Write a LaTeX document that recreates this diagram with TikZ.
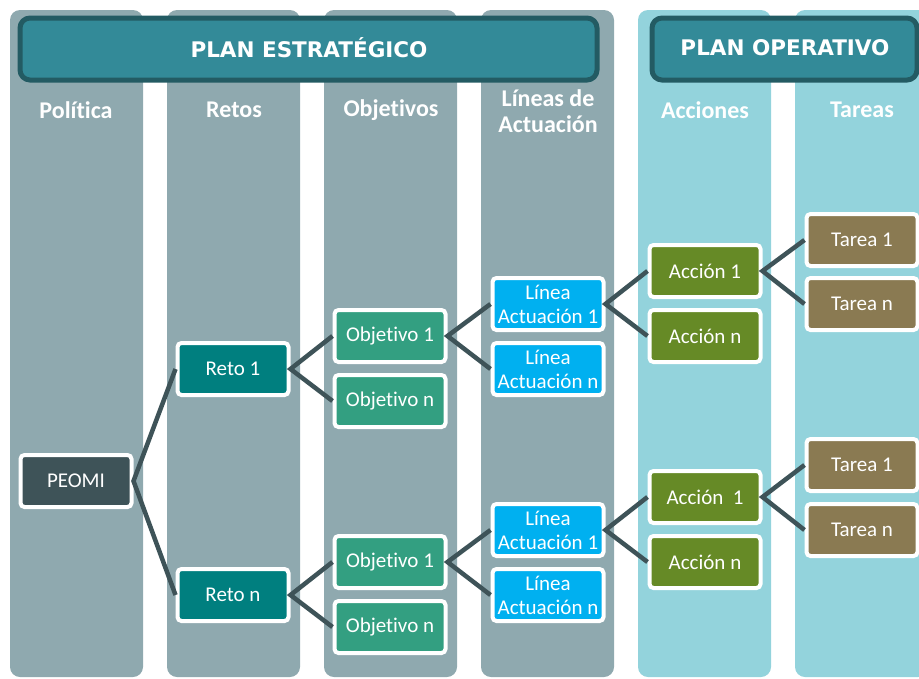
\documentclass[tikz,border=0pt]{standalone}
\usepackage{fontspec}
\setmainfont{Carlito}[Ligatures={NoCommon,NoRequired,NoContextual}]
\newfontfamily\bannerfont{DejaVu Sans}

\definecolor{panelgris}{HTML}{8FA9AF}
\definecolor{panelazul}{HTML}{93D3DC}
\definecolor{bannerfill}{HTML}{338A98}
\definecolor{banneredge}{HTML}{235B63}
\definecolor{peomicol}{HTML}{3E5358}
\definecolor{retocol}{HTML}{007F7F}
\definecolor{objcol}{HTML}{339F81}
\definecolor{lineacol}{HTML}{00B0F0}
\definecolor{accioncol}{HTML}{668A26}
\definecolor{tareacol}{HTML}{8A7A52}

\tikzset{
  caja/.style={draw=white, line width=4pt, rounded corners=4pt, text=white,
    minimum width=111pt, minimum height=52pt, inner sep=1pt, align=center,
    font=\fontsize{21}{24}\selectfont},
  banner/.style={draw=banneredge, fill=bannerfill, line width=5pt, rounded corners=10pt},
  bannertxt/.style={text=white, font=\bannerfont\bfseries\fontsize{21.5}{24}\selectfont},
  cabecera/.style={text=white, align=center, font=\bfseries\fontsize{24}{26}\selectfont},
  enlace/.style={draw=peomicol, line width=4.5pt}
}

\begin{document}
\begin{tikzpicture}[x=1pt, y=-1pt]
\useasboundingbox (0,0) rectangle (919,678);

% Column panels
\foreach \xa in {10,167,324,481}
  \fill[panelgris, rounded corners=10pt] (\xa,10) rectangle ++(133,667);
\foreach \xa in {638,795}
  \fill[panelazul, rounded corners=10pt] (\xa,10) rectangle ++(133,667);

% Banners
\draw[banner] (20,18) rectangle (597,80);
\node[bannertxt] (plan1) at (309,48) {PLAN ESTRATÉGICO};
\draw[banner] (652,18) rectangle (917,80);
\node[bannertxt] (plan2) at (785,48) {PLAN OPERATIVO};

% Column headings
\node[cabecera] (hpol) at (76,110) {Política};
\node[cabecera] (hret) at (234,110) {Retos};
\node[cabecera] (hobj) at (391,110) {Objet\kern0pt ivos};
\node[cabecera] (hlin) at (548,111) {Líneas de\\Actuación};
\node[cabecera] (hacc) at (705,110) {Acciones};
\node[cabecera] (htar) at (862,110) {Tareas};

% Politica
\node[caja, fill=peomicol] (peomi) at (76,481) {PEOMI};

% Retos
\node[caja, fill=retocol] (reto1) at (233,369) {Reto 1};
\node[caja, fill=retocol] (reton) at (233,595) {Reto n};

% Objetivos
\node[caja, fill=objcol] (obj1a) at (390,336) {Objetivo 1};
\node[caja, fill=objcol] (objna) at (390,401) {Objetivo n};
\node[caja, fill=objcol] (obj1b) at (390,562) {Objetivo 1};
\node[caja, fill=objcol] (objnb) at (390,627) {Objetivo n};

% Lineas de actuacion
\node[caja, fill=lineacol] (lin1a) at (548,304) {Línea\\Actuación 1};
\node[caja, fill=lineacol] (linna) at (548,369) {Línea\\Actuación n};
\node[caja, fill=lineacol] (lin1b) at (548,530) {Línea\\Actuación 1};
\node[caja, fill=lineacol] (linnb) at (548,595) {Línea\\Actuación n};

% Acciones
\node[caja, fill=accioncol] (acc1a) at (705,271) {Acción 1};
\node[caja, fill=accioncol] (accna) at (705,336) {Acción n};
\node[caja, fill=accioncol] (acc1b) at (705,497) {Acción~~1};
\node[caja, fill=accioncol] (accnb) at (705,562) {Acción n};

% Tareas
\node[caja, fill=tareacol] (tar1a) at (862,240) {Tarea 1};
\node[caja, fill=tareacol] (tarna) at (862,304) {Tarea n};
\node[caja, fill=tareacol] (tar1b) at (862,465) {Tarea 1};
\node[caja, fill=tareacol] (tarnb) at (862,530) {Tarea n};

% Connectors
\draw[enlace] (reto1.west) -- (peomi.east) -- (reton.west);
\draw[enlace] (obj1a.west) -- (reto1.east) -- (objna.west);
\draw[enlace] (obj1b.west) -- (reton.east) -- (objnb.west);
\draw[enlace] (lin1a.west) -- (obj1a.east) -- (linna.west);
\draw[enlace] (lin1b.west) -- (obj1b.east) -- (linnb.west);
\draw[enlace] (acc1a.west) -- (lin1a.east) -- (accna.west);
\draw[enlace] (acc1b.west) -- (lin1b.east) -- (accnb.west);
\draw[enlace] (tar1a.west) -- (acc1a.east) -- (tarna.west);
\draw[enlace] (tar1b.west) -- (acc1b.east) -- (tarnb.west);

\end{tikzpicture}
\end{document}
